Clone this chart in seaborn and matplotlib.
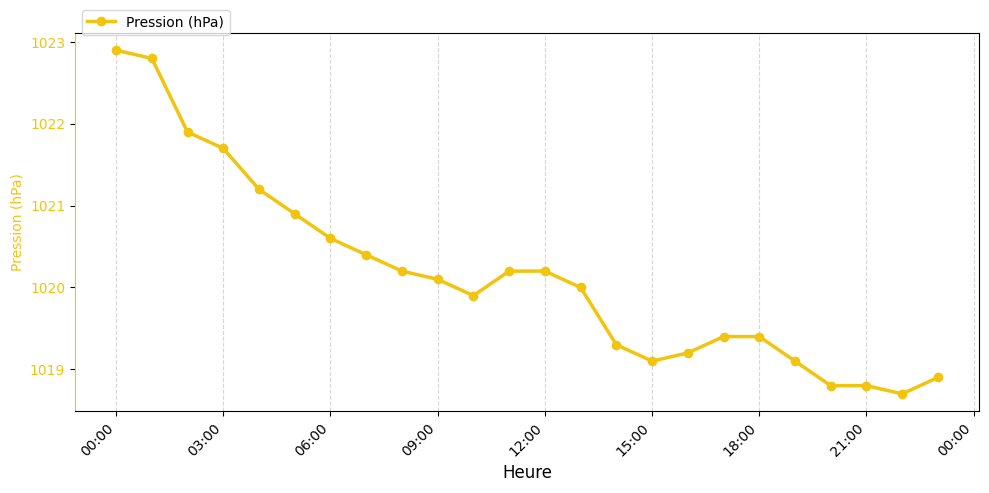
import matplotlib
matplotlib.use('Agg')
import matplotlib.pyplot as plt
import matplotlib.dates as mdates
import seaborn as sns
import pandas as pd

heures = pd.date_range('2024-01-01 00:00', periods=24, freq='h')
pression = [1022.9, 1022.8, 1021.9, 1021.7, 1021.2, 1020.9, 1020.6, 1020.4,
            1020.2, 1020.1, 1019.9, 1020.2, 1020.2, 1020.0, 1019.3, 1019.1,
            1019.2, 1019.4, 1019.4, 1019.1, 1018.8, 1018.8, 1018.7, 1018.9]

COULEUR = '#f1c40f'

df = pd.DataFrame({'heure': heures, 'pression': pression})

fig, ax = plt.subplots(figsize=(9.89, 4.93), dpi=100)

sns.lineplot(data=df, x='heure', y='pression', ax=ax, color=COULEUR,
             linewidth=2.5, marker='o', markersize=7, markeredgewidth=0,
             label='Pression (hPa)')

ax.set_xlabel('Heure', fontsize=12)
ax.set_ylabel('Pression (hPa)', color=COULEUR)
for lbl in ax.get_yticklabels():
    lbl.set_color(COULEUR)
ax.spines['left'].set_color(COULEUR)

ax.xaxis.set_major_locator(mdates.HourLocator(interval=3))
ax.xaxis.set_major_formatter(mdates.DateFormatter('%H:%M'))
plt.setp(ax.get_xticklabels(), rotation=45, ha='right')

ax.grid(True, axis='x', linestyle='--', alpha=0.6, color='#bbbbbb')
ax.grid(False, axis='y')

ax.legend(loc='upper left', bbox_to_anchor=(0, 1.08))

fig.subplots_adjust(left=0.0758, right=0.9899, top=0.933, bottom=0.1663)
fig.savefig('out.png', dpi=100)
